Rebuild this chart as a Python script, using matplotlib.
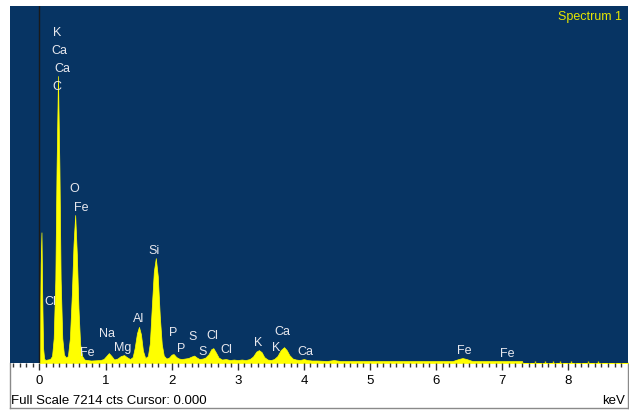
import matplotlib
matplotlib.use("Agg")
import matplotlib.pyplot as plt
from matplotlib.ticker import MultipleLocator

plt.rcParams['font.family'] = ['Liberation Sans', 'DejaVu Sans']

energy = [0.000, 0.006, 0.018, 0.030, 0.042, 0.055, 0.070, 0.090, 0.120, 0.160,
          0.190, 0.215, 0.240, 0.258, 0.280, 0.302, 0.320, 0.345, 0.370, 0.400,
          0.430, 0.460, 0.490, 0.515, 0.540, 0.565, 0.590, 0.615, 0.645, 0.680,
          0.720, 0.780, 0.850, 0.920, 0.970, 1.010, 1.050, 1.090, 1.130, 1.180,
          1.230, 1.280, 1.320, 1.370, 1.410, 1.440, 1.475, 1.505, 1.535, 1.565,
          1.600, 1.640, 1.670, 1.700, 1.730, 1.760, 1.790, 1.820, 1.850, 1.880,
          1.920, 1.960, 2.000, 2.030, 2.070, 2.110, 2.150, 2.200, 2.250, 2.300,
          2.340, 2.380, 2.420, 2.470, 2.510, 2.560, 2.600, 2.630, 2.670, 2.710,
          2.760, 2.820, 2.880, 2.940, 3.000, 3.060, 3.120, 3.180, 3.230, 3.280,
          3.320, 3.360, 3.400, 3.450, 3.500, 3.550, 3.600, 3.650, 3.700, 3.740,
          3.780, 3.830, 3.880, 3.940, 4.000, 4.050, 4.120, 4.200, 4.350, 4.450,
          4.550, 4.800, 5.200, 5.600, 6.000, 6.250, 6.340, 6.400, 6.460, 6.550,
          6.900, 7.300, 7.310, 8.900]
counts = [0, 700, 2000, 2640, 1300, 300, 90, 60, 70, 80,
          140, 500, 1700, 3900, 5800, 3900, 1700, 500, 170, 110,
          140, 500, 1400, 2400, 2990, 2200, 1100, 380, 140, 70,
          60, 50, 55, 60, 80, 140, 200, 140, 70, 90,
          140, 160, 120, 80, 120, 300, 600, 730, 580, 250,
          100, 140, 400, 1150, 1850, 2120, 1750, 950, 380, 150,
          90, 110, 170, 180, 120, 90, 80, 90, 100, 130,
          150, 110, 80, 90, 110, 180, 280, 300, 210, 110,
          70, 80, 60, 70, 60, 70, 60, 80, 130, 230,
          260, 220, 120, 70, 60, 80, 140, 260, 320, 260,
          160, 90, 70, 60, 80, 60, 50, 50, 40, 60,
          40, 40, 40, 40, 40, 40, 80, 100, 80, 40,
          40, 40, 0, 0]

# sparse noise counts past the end of the continuum
noise_kev = [7.50, 7.65, 7.77, 7.87, 8.04, 8.30, 8.45]
noise_cts = [50, 40, 50, 45, 40, 50, 40]

# peak labels (text, keV, counts)
labels = [("K", 0.265, 6686), ("Ca", 0.295, 6323), ("Ca", 0.34, 5959),
          ("C", 0.265, 5595), ("Cl", 0.16, 1252), ("O", 0.52, 3535),
          ("Fe", 0.63, 3151), ("Fe", 0.72, 222), ("Na", 1.02, 606),
          ("Mg", 1.26, 323), ("Al", 1.505, 909), ("Si", 1.73, 2283),
          ("P", 2.02, 626), ("P", 2.14, 303), ("S", 2.31, 545),
          ("S", 2.47, 242), ("Cl", 2.61, 566), ("Cl", 2.82, 283),
          ("K", 3.31, 424), ("K", 3.58, 323), ("Ca", 3.68, 646),
          ("Ca", 4.02, 242), ("Fe", 6.42, 263), ("Fe", 7.07, 202)]

full_scale = 7214

W, H = 629, 414
fig = plt.figure(figsize=(W / 100, H / 100), dpi=100)

# bottom strip frame
bar = fig.add_axes([10 / W, (H - 409) / H, 617.5 / W, 45 / H])
bar.set_xticks([])
bar.set_yticks([])
bar.set_facecolor("white")
for s in bar.spines.values():
    s.set_color("#8a8a8a")
    s.set_linewidth(1)
bar.spines['top'].set_visible(False)
bar.text(1 / 617.5, 8 / 45, "Full Scale %d cts Cursor: 0.000" % full_scale,
         transform=bar.transAxes, ha="left", va="center", fontsize=9.5)
bar.text(615 / 617.5, 8 / 45, "keV", transform=bar.transAxes,
         ha="right", va="center", fontsize=9.5)

ax = fig.add_axes([10 / W, (H - 364) / H, 617.5 / W, 357 / H])
ax.set_facecolor("#073463")
ax.fill_between(energy, counts, color="#ffff00", lw=0.5, edgecolor="#ffff00")
ax.vlines(noise_kev, 0, noise_cts, color="#d8d800", lw=1)
ax.axvline(0, color="#1a1a1a", lw=1)
for txt, x, y in labels:
    ax.text(x, y, txt, color="#e8e8ee", fontsize=9, ha="center", va="center")
ax.text(0.991, 0.972, "Spectrum 1", color="#e6e600", fontsize=9,
        ha="right", va="center", transform=ax.transAxes)

ax.set_xlim(-0.446, 8.896)
ax.set_ylim(0, full_scale)
ax.set_yticks([])
ax.xaxis.set_major_locator(MultipleLocator(1))
ax.xaxis.set_minor_locator(MultipleLocator(0.1))
ax.tick_params(axis="x", which="major", direction="out", length=5,
               width=1, color="#333333", labelsize=9.5, pad=3)
ax.tick_params(axis="x", which="minor", direction="out", length=3,
               width=1, color="#333333")
for s in ax.spines.values():
    s.set_visible(False)

fig.savefig("out.png", dpi=100)
